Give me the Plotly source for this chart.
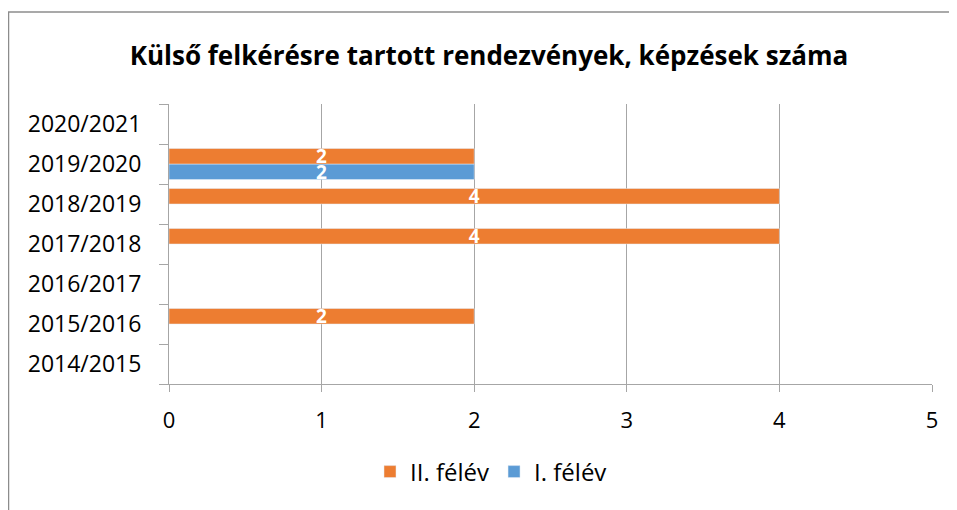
import plotly.graph_objects as go

categories = ["2014/2015", "2015/2016", "2016/2017", "2017/2018", "2018/2019", "2019/2020", "2020/2021"]
felev_I = [None, None, None, None, None, 2, None]
felev_II = [None, 2, None, 4, 4, 2, None]
x_ticks = [0, 1, 2, 3, 4, 5]

FONT = "Open Sans"
ORANGE = "#ED7D31"
BLUE = "#5B9BD5"
GRID = "#A6A6A6"

W, H = 949, 502
ML, MR, MT, MB = 161, 25, 96, 126
PW, PH = W - ML - MR, H - MT - MB


def px_x(x):
    return (x - ML) / PW


def px_y(y):
    return (H - MB - y) / PH


fig = go.Figure()
for name, vals, col in [("I. félév", felev_I, BLUE), ("II. félév", felev_II, ORANGE)]:
    fig.add_trace(go.Bar(
        y=categories, x=vals, name=name, orientation="h",
        marker=dict(color=col), text=vals, textposition="inside", textangle=0,
        insidetextanchor="middle", constraintext="none",
        textfont=dict(color="white", size=19, family=FONT, weight="bold"),
    ))

fig.update_layout(
    width=W, height=H,
    margin=dict(l=ML, r=MR, t=MT, b=MB),
    paper_bgcolor="white", plot_bgcolor="white",
    font=dict(family=FONT, color="black", size=22),
    title=dict(text="<b>Külső felkérésre tartott rendezvények, képzések száma</b>",
               font=dict(family=FONT, size=26, color="black"),
               x=481 / W, xanchor="center", y=1 - 48 / H, yanchor="middle"),
    barmode="group", bargap=0.225, bargroupgap=0,
    showlegend=True,
    legend=dict(orientation="h", traceorder="reversed", x=px_x(483), xanchor="center",
                y=px_y(464), yanchor="middle", font=dict(size=24, family=FONT)),
    xaxis=dict(range=[0, 5], tickvals=x_ticks, showgrid=True, gridcolor=GRID, gridwidth=1,
               showline=True, linecolor=GRID, linewidth=1, ticks="outside", ticklen=7,
               tickcolor=GRID, zeroline=False, tickfont=dict(size=22), ticklabelstandoff=10),
    yaxis=dict(type="category", categoryorder="array", categoryarray=categories,
               showgrid=False, showline=True, linecolor=GRID, linewidth=1,
               ticks="outside", tickson="boundaries", ticklen=9, tickcolor=GRID,
               ticklabelstandoff=22, tickfont=dict(size=23)),
    shapes=[
        dict(type="line", xref="paper", yref="paper",
             x0=px_x(0), x1=px_x(W), y0=px_y(4), y1=px_y(4),
             line=dict(color="#8C8C8C", width=1.5)),
        dict(type="line", xref="paper", yref="paper",
             x0=px_x(0.5), x1=px_x(0.5), y0=px_y(4), y1=px_y(H),
             line=dict(color="#8C8C8C", width=1.5)),
    ],
)

fig.write_html("out.html")
